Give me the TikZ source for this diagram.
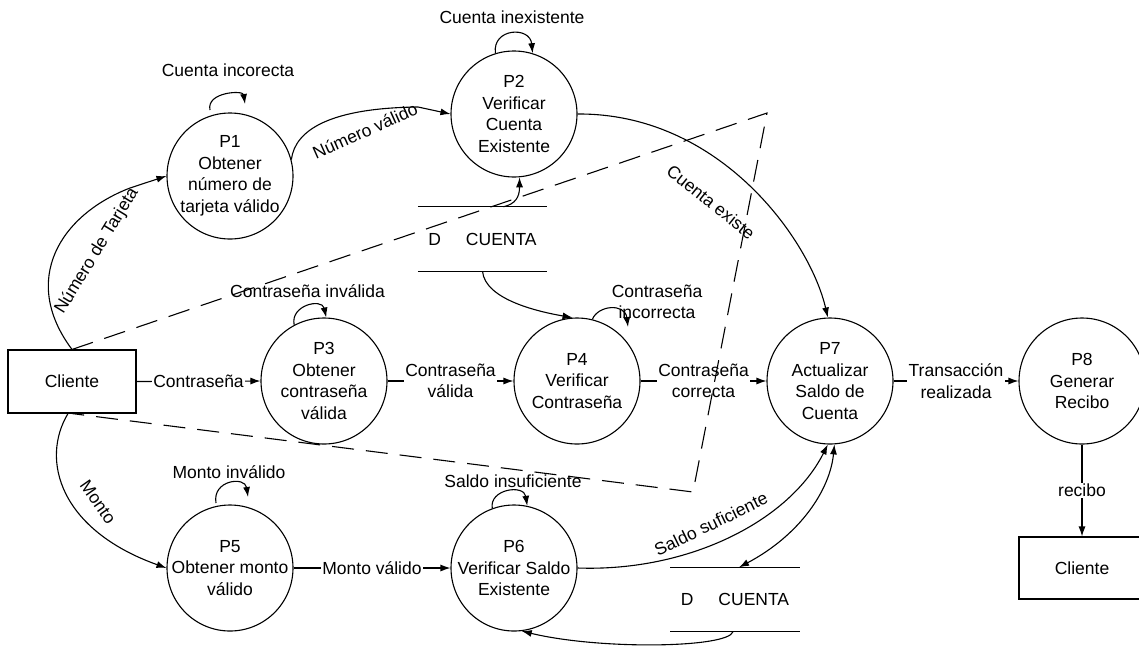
\documentclass[tikz,border=0pt]{standalone}
\usepackage{fontspec}
\setmainfont{Liberation Sans}
\usetikzlibrary{arrows.meta}
% process bubble: empty circle plus a separate centred text node
\newcommand\procnode[3]{%
  \node[proc] (#1) at (#2) {};
  \node[ptext] (#1-t) at (#1.center) {#3};}
\begin{document}
\begin{tikzpicture}[x=1pt,y=-1pt,
  every node/.style={font=\fontsize{17.5}{21.5}\selectfont},
  proc/.style={circle, draw, line width=1.1pt, minimum size=126pt, inner sep=0pt},
  ptext/.style={inner sep=0pt, align=center},
  ent/.style={rectangle, draw, line width=1.1pt, minimum width=128pt, minimum height=63pt, inner sep=0pt},
  store/.style={minimum width=129pt, minimum height=64pt, inner sep=0pt},
  flow/.style={line width=1.1pt, -{Latex[length=10pt,width=7pt]}},
  plain/.style={line width=1.1pt},
  lbl/.style={fill=white, inner sep=1.5pt, align=center},
  tag/.style={inner sep=0pt, align=center},
  bound/.style={line width=1.1pt, dash pattern=on 22pt off 12pt}
]
\useasboundingbox (0,0) rectangle (1139,646);
\clip (0,0) rectangle (1139,646);

% external entities
\node[ent] (cli1) at (72,381.5) {Cliente};
\node[ent, minimum width=126pt, minimum height=62pt] (cli2) at (1082,568) {Cliente};

% processes
\procnode{P1}{230,176}{P1\\Obtener\\número de\\tarjeta válido}
\procnode{P2}{514,114}{P2\\Verificar\\Cuenta\\Existente}
\procnode{P3}{324,381}{P3\\Obtener\\contraseña\\válida}
\procnode{P4}{577,381}{P4\\Verificar\\Contraseña}
\procnode{P5}{230,568}{P5\\Obtener monto\\válido}
\procnode{P6}{514,568}{P6\\Verificar Saldo\\Existente}
\procnode{P7}{830,381}{P7\\Actualizar\\Saldo de\\Cuenta}
\procnode{P8}{1082,381}{P8\\Generar\\Recibo}

% data stores
\node[store] (st1) at (482.5,239) {D\hspace{25pt}CUENTA};
\node[store] (st2) at (735,599.5) {D\hspace{25pt}CUENTA};
\draw[plain] (st1.north west) -- (st1.north east) (st1.south west) -- (st1.south east);
\draw[plain] (st2.north west) -- (st2.north east) (st2.south west) -- (st2.south east);

% straight flows
\draw[flow] (cli1.east) -- node[lbl] (l-c) {Contraseña} (P3.west);
\draw[flow] (P3.east) -- node[lbl] (l-cv) {Contraseña\\válida} (P4.west);
\draw[flow] (P4.east) -- node[lbl] (l-cc) {Contraseña\\correcta} (P7.west);
\draw[flow] (P7.east) -- node[lbl] (l-tr) {Transacción\\realizada} (P8.west);
\draw[flow] (P8.south) -- node[lbl] (l-re) {recibo} (cli2.north);
\draw[flow] (P5.east) -- node[lbl] (l-mv) {Monto válido} (P6.west);

% curved flows
\draw[flow] (cli1.north) .. controls (20,280) and (60,215) .. (130,188) -- (P1.west);
\draw[flow] (P1.15) .. controls (295,130) and (330,108) .. (418,107) -- (P2.west);
\draw[flow] (P2.east) .. controls (720,113) and (810,240) .. (P7.92);
\draw[flow] ([xshift=21pt]st1.north) .. controls +(12,-3) and +(0,20) .. (P2.-85);
\draw[flow] (st1.south) .. controls (485,300) and (540,312) .. (P4.94);
\draw[flow] ([xshift=-4pt]cli1.south) .. controls (40,460) and (60,530) .. (P5.west);
\draw[flow] (P6.east) .. controls (690,572) and (790,520) .. (P7.-92);
\draw[line width=1.1pt, {Latex[length=10pt,width=7pt]}-{Latex[length=10pt,width=7pt]}]
  ([xshift=4pt]st2.north) .. controls (800,535) and (830,490) .. (P7.-86);
\draw[flow] ([xshift=-2pt]st2.south) .. controls (728,648) and (600,650) .. (P6.-83);

% self loops
\draw[flow] (210,110) .. controls (206,92) and (243,90) .. (245,104);
\draw[flow] (P2.107) .. controls (492,28) and (530,26) .. (P2.73);
\draw[flow] (P3.118) .. controls (290,305) and (322,298) .. (P3.88);
\draw[flow] (P4.76) .. controls (598,305) and (625,303) .. (628,327);
\draw[flow] (216,503) .. controls (212,480) and (245,476) .. (248,497);
\draw[flow] (P6.110) .. controls (489,489) and (524,484) .. (P6.78);

% flow labels
\node[tag] (l-ci) at (228,70) {Cuenta incorecta};
\node[tag] (l-cin) at (512,17) {Cuenta inexistente};
\node[tag] (l-cinv) at (307.5,291) {Contraseña inválida};
\node[tag] (l-cinc) at (657,302) {Contraseña\\incorrecta};
\node[tag] (l-minv) at (229,472) {Monto inválido};
\node[tag] (l-sins) at (513,481) {Saldo insuficiente};
\node[tag, rotate=24] (l-nv) at (365,131) {Número válido};
\node[tag, rotate=58.6] (l-nt) at (97,251) {Número de Tarjeta};
\node[tag, rotate=-38.7] (l-ce) at (711,202) {Cuenta existe};
\node[tag, rotate=-55] (l-mo) at (98,502) {Monto};
\node[tag, rotate=26] (l-ss) at (711,524) {Saldo suficiente};

% dashed boundary
\coordinate (bTop) at (767,113);
\coordinate (bBot) at (693,492);
\draw[bound] (cli1.north) -- (bTop) -- (bBot) -- (cli1.south);
\end{tikzpicture}
\end{document}
